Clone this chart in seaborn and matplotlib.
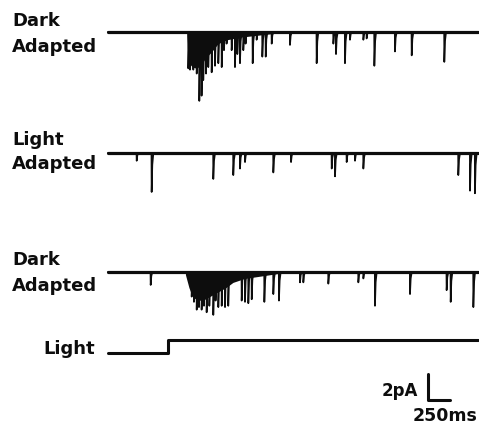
import matplotlib

matplotlib.use("Agg")
import matplotlib.pyplot as plt
import numpy as np
import pandas as pd
import seaborn as sns

# Whole-cell current traces, time in ms, amplitude in pA (inward = down)
TRACE_END = 4200

# Dark adapted (top)
dark1_times = [913, 932, 970, 1008, 1038, 1064, 1083, 1114, 1140, 1178, 1216,
               1254, 1292, 1318, 1348, 1405, 1443, 1470, 1500, 1538, 1564,
               1644, 1689, 1754, 1792, 1860, 2068, 2371, 2561, 2591, 2693,
               2750, 2902, 2939, 3027, 3261, 3451, 3822]
dark1_amps = [2.8, 2.9, 2.9, 3.2, 5.3, 4.9, 3.7, 3.2, 2.7, 3.1, 2.6,
              2.4, 2.7, 1.4, 0.9, 1.4, 2.7, 1.7, 2.4, 1.4, 0.9,
              2.4, 0.6, 1.9, 1.9, 0.9, 1.0, 2.4, 0.9, 1.7, 2.4,
              0.6, 0.6, 0.5, 2.6, 1.5, 1.8, 2.3]
dark1_burst_t = [898, 920, 960, 1010, 1060, 1110, 1180, 1250, 1350, 1500, 1700, 1900]
dark1_burst_depth = [0.3, 2.4, 2.7, 2.8, 2.5, 2.0, 1.5, 0.9, 0.6, 0.4, 0.25, 0.1]

# Light adapted (middle)
light_times = [326, 496, 1197, 1424, 1500, 1557, 1879, 2080, 2542, 2580,
               2712, 2807, 2902, 3981, 4114, 4170]
light_amps = [0.6, 3.0, 2.0, 1.7, 1.2, 0.7, 1.5, 0.7, 1.2, 1.8,
              0.7, 0.6, 1.2, 1.7, 2.9, 3.1]

# Dark adapted again (bottom)
dark2_times = [485, 951, 977, 1008, 1034, 1064, 1091, 1121, 1152, 1197, 1223,
               1254, 1292, 1330, 1367, 1519, 1557, 1595, 1633, 1777, 1879,
               1943, 2182, 2220, 2504, 2845, 2902, 3034, 3432, 3848, 3894, 4152]
dark2_amps = [1.0, 1.9, 2.3, 2.9, 2.7, 2.9, 2.6, 3.1, 2.6, 3.3, 2.2,
              2.7, 2.6, 2.7, 2.6, 2.2, 2.3, 2.4, 2.1, 2.3, 1.7,
              2.2, 0.8, 0.8, 0.9, 0.8, 0.5, 2.6, 1.7, 1.4, 2.3, 2.7]
dark2_burst_t = [880, 920, 960, 1020, 1100, 1180, 1260, 1340, 1420, 1550, 1750, 1950]
dark2_burst_depth = [0.2, 1.2, 1.9, 2.2, 2.1, 1.8, 1.5, 1.2, 0.8, 0.5, 0.3, 0.1]

# Light stimulus monitor
light_step_t = [0, 682, 682, TRACE_END]
light_step_level = [0, 0, 1, 1]

# Scale bar
bar_ms = 250
bar_pa = 2


def spike_path(times, amps):
    xs, ys = [0], [0.0]
    for t, a in sorted(zip(times, amps)):
        xs += [t - 2, t, t + 8, t + 20]
        ys += [0.0, -a, -0.3 * a, 0.0]
    xs.append(TRACE_END)
    ys.append(0.0)
    return np.array(xs), np.array(ys)


def main():
    sns.set_style("white")
    plt.rcParams["font.family"] = ["DejaVu Sans"]

    fig = plt.figure(figsize=(4.79, 4.32), dpi=100)
    ax = fig.add_axes([0, 0, 1, 1])
    # 0.088 px per ms, 13 px per pA
    ax.set_xlim(-1227, 4216)
    ax.set_ylim(-432 / 13, 0)
    ax.set_axis_off()

    traces = [
        (dark1_times, dark1_amps, dark1_burst_t, dark1_burst_depth, -32 / 13),
        (light_times, light_amps, None, None, -153 / 13),
        (dark2_times, dark2_amps, dark2_burst_t, dark2_burst_depth, -272 / 13),
    ]
    ink = "#0d0d0d"
    for times, amps, bt, bd, off in traces:
        base = pd.DataFrame({"t": [0, TRACE_END], "i": [off, off]})
        sns.lineplot(data=base, x="t", y="i", ax=ax, color=ink, lw=2.3,
                     estimator=None, sort=False)
        if bt is not None:
            ax.fill_between(bt, off, off - np.array(bd), color=ink, lw=0)
        xs, ys = spike_path(times, amps)
        df = pd.DataFrame({"t": xs, "i": ys + off})
        sns.lineplot(data=df, x="t", y="i", ax=ax, color=ink, lw=1.2,
                     estimator=None, sort=False)

    step = pd.DataFrame({"t": light_step_t,
                         "v": np.array(light_step_level) - 353 / 13})
    sns.lineplot(data=step, x="t", y="v", ax=ax, color=ink, lw=2.2,
                 estimator=None, sort=False)

    # scale bar
    x0, y0 = 3636, -400 / 13
    bar = pd.DataFrame({"t": [x0, x0, x0 + bar_ms],
                        "v": [y0 + bar_pa, y0, y0]})
    sns.lineplot(data=bar, x="t", y="v", ax=ax, color=ink, lw=2.2,
                 estimator=None, sort=False)

    txt = dict(fontsize=13, fontweight="bold", color=ink, va="center",
               transform=fig.transFigure)

    def put(x, y, s, **kw):
        fig.text(x / 479, 1 - y / 432, s, **{**txt, **kw})

    put(12, 21, "Dark")
    put(12, 47, "Adapted")
    put(12, 140, "Light")
    put(12, 164, "Adapted")
    put(12, 260, "Dark")
    put(12, 286, "Adapted")
    put(95, 349, "Light", ha="right")
    put(418, 391, f"{bar_pa}pA", ha="right", fontsize=12)
    put(477, 416, f"{bar_ms}ms", ha="right", fontsize=12.5)

    fig.savefig("out.png", dpi=100)
    plt.close(fig)


if __name__ == "__main__":
    main()
